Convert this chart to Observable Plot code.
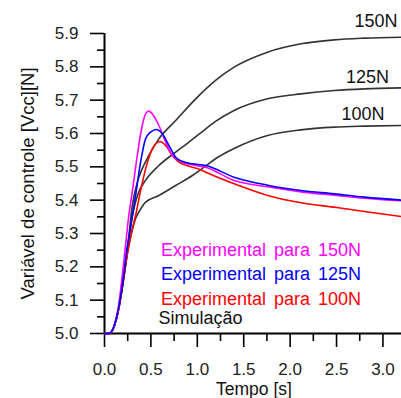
<!DOCTYPE html>
<html>
<head>
<meta charset="utf-8">
<script src="https://cdn.jsdelivr.net/npm/d3@7"></script>
<script src="https://cdn.jsdelivr.net/npm/@observablehq/plot@0.6"></script>
<style>
  html, body { margin: 0; padding: 0; background: #fff; }
  #chart svg { display: block; }
</style>
</head>
<body>
<div id="chart"></div>
<script>
// ---- Tick values ----
const xTicks = [0, 0.5, 1.0, 1.5, 2.0, 2.5, 3.0];
const xMinorTicks = [0.25, 0.75, 1.25, 1.75, 2.25, 2.75];
const yTicks = [5.0, 5.1, 5.2, 5.3, 5.4, 5.5, 5.6, 5.7, 5.8, 5.9];
const yMinorTicks = [5.05, 5.15, 5.25, 5.35, 5.45, 5.55, 5.65, 5.75, 5.85];

// ---- Labels ----
const simLabels = ["150N", "125N", "100N"];
const legendLabels = ["Experimental para 150N", "Experimental para 125N", "Experimental para 100N", "Simulação"];
const xTitle = "Tempo [s]";
const yTitle = "Variável de controle [Vcc][N]";

// ---- Simulation 150N ----
const tSim150 = [0, 0.05, 0.1, 0.15, 0.2, 0.25, 0.3, 0.35, 0.4, 0.478, 0.586, 0.767, 0.983, 1.2, 1.396, 1.757, 2.117, 2.476, 2.8, 3.2];
const vSim150 = [5.0, 5.0, 5.018, 5.07, 5.155, 5.26, 5.385, 5.45, 5.49, 5.534, 5.584, 5.639, 5.704, 5.76, 5.799, 5.844, 5.869, 5.881, 5.886, 5.889];

// ---- Simulation 125N ----
const tSim125 = [0, 0.05, 0.1, 0.15, 0.2, 0.25, 0.3, 0.33, 0.37, 0.443, 0.586, 0.767, 0.9, 1.037, 1.2, 1.396, 1.757, 2.117, 2.476, 2.8, 3.2];
const vSim125 = [5.0, 5.0, 5.018, 5.07, 5.155, 5.255, 5.35, 5.39, 5.425, 5.46, 5.504, 5.544, 5.572, 5.602, 5.637, 5.669, 5.704, 5.719, 5.729, 5.734, 5.737];

// ---- Simulation 100N ----
const tSim100 = [0, 0.05, 0.1, 0.15, 0.2, 0.25, 0.3, 0.335, 0.37, 0.443, 0.586, 0.767, 0.947, 1.091, 1.2, 1.396, 1.757, 2.117, 2.476, 2.8, 3.2];
const vSim100 = [5.0, 5.0, 5.018, 5.07, 5.15, 5.245, 5.31, 5.345, 5.364, 5.394, 5.414, 5.444, 5.474, 5.503, 5.525, 5.555, 5.594, 5.611, 5.619, 5.622, 5.624];

// ---- Experimental 150N ----
const tExp150 = [0, 0.05, 0.1, 0.15, 0.19, 0.225, 0.262, 0.299, 0.353, 0.407, 0.443, 0.478, 0.52, 0.586, 0.659, 0.731, 0.839, 0.947, 1.091, 1.396, 1.757, 2.117, 2.476, 2.8, 3.2];
const vExp150 = [5.0, 5.0, 5.02, 5.08, 5.17, 5.26, 5.354, 5.424, 5.534, 5.624, 5.659, 5.667, 5.657, 5.624, 5.574, 5.534, 5.514, 5.506, 5.499, 5.459, 5.44, 5.425, 5.415, 5.406, 5.398];

// ---- Experimental 125N ----
const tExp125 = [0, 0.05, 0.1, 0.15, 0.2, 0.24, 0.28, 0.335, 0.389, 0.443, 0.497, 0.558, 0.623, 0.694, 0.767, 0.85, 0.947, 1.091, 1.396, 1.757, 2.117, 2.476, 2.8, 3.2];
const vExp125 = [5.0, 5.0, 5.02, 5.075, 5.16, 5.25, 5.32, 5.414, 5.514, 5.584, 5.604, 5.612, 5.599, 5.564, 5.529, 5.515, 5.509, 5.504, 5.469, 5.445, 5.429, 5.419, 5.409, 5.40];

// ---- Experimental 100N ----
const tExp100 = [0, 0.05, 0.1, 0.15, 0.2, 0.25, 0.3, 0.335, 0.39, 0.443, 0.515, 0.597, 0.659, 0.731, 0.802, 0.947, 1.0, 1.091, 1.39, 1.75, 2.12, 2.5, 2.8, 3.2];
const vExp100 = [5.0, 5.0, 5.02, 5.07, 5.155, 5.245, 5.315, 5.354, 5.43, 5.494, 5.554, 5.576, 5.564, 5.534, 5.514, 5.499, 5.495, 5.484, 5.45, 5.415, 5.392, 5.378, 5.366, 5.351];

const toRows = (ts, vs) => ts.map((t, i) => ({t, v: vs[i]}));

const simColor = "#333333";
const font = "Arial, 'Liberation Sans', sans-serif";

const curve = (ts, vs, color) => Plot.line(toRows(ts, vs), {
  x: "t", y: "v", stroke: color, strokeWidth: 1.6, curve: "monotone-x"
});

const chart = Plot.plot({
  width: 401,
  height: 398,
  marginLeft: 104,
  marginRight: 0,
  marginTop: 33,
  marginBottom: 65,
  style: {fontFamily: font, background: "#fff", overflow: "visible"},
  x: {domain: [0, 3.2]},
  y: {domain: [5.0, 5.9]},
  marks: [
    // axis lines
    Plot.ruleX([0], {y1: 5.0, y2: 5.9, stroke: "#000", strokeWidth: 2}),
    Plot.ruleY([5.0], {x1: 0, x2: 3.2, stroke: "#000", strokeWidth: 2}),
    // minor ticks
    Plot.axisX({ticks: xMinorTicks, tickSize: 8, tickFormat: () => "", stroke: "#000", strokeWidth: 1.6, label: null}),
    Plot.axisY({ticks: yMinorTicks, tickSize: 7, tickFormat: () => "", stroke: "#000", strokeWidth: 1.6, label: null}),
    // major ticks
    Plot.axisX({ticks: xTicks, tickSize: 14, tickPadding: 15, tickFormat: d3.format(".1f"), fontSize: 17, fill: "#222", stroke: "#000", strokeWidth: 1.6, label: null}),
    Plot.axisY({ticks: yTicks, tickSize: 14, tickPadding: 12, tickFormat: d3.format(".1f"), fontSize: 17, fill: "#222", stroke: "#000", strokeWidth: 1.6, label: null}),
    // titles
    Plot.text([xTitle], {frameAnchor: "bottom", lineAnchor: "bottom", dy: 61, dx: 1, fontSize: 17.5, fill: "#111"}),
    Plot.text([yTitle], {frameAnchor: "left", rotate: -90, textAnchor: "middle", lineAnchor: "bottom", dx: -71, fontSize: 18.5, fill: "#111"}),
    // simulation curves
    curve(tSim150, vSim150, simColor),
    curve(tSim125, vSim125, simColor),
    curve(tSim100, vSim100, simColor),
    // experimental curves
    curve(tExp100, vExp100, "#ff0000"),
    curve(tExp150, vExp150, "#ff00ff"),
    curve(tExp125, vExp125, "#0000ff"),
    // simulation labels
    Plot.text([simLabels[0]], {frameAnchor: "top-right", textAnchor: "end", lineAnchor: "bottom", dx: -4, dy: -6.3, fontSize: 18, fill: "#111"}),
    Plot.text([simLabels[1]], {frameAnchor: "top-right", textAnchor: "end", lineAnchor: "bottom", dx: -12.5, dy: 49.7, fontSize: 18, fill: "#111"}),
    Plot.text([simLabels[2]], {frameAnchor: "top-right", textAnchor: "end", lineAnchor: "bottom", dx: -17, dy: 86, fontSize: 18, fill: "#111"}),
    // legend
    Plot.text([legendLabels[0]], {frameAnchor: "top-left", textAnchor: "start", lineAnchor: "bottom", dx: 56.5, dy: 222, fontSize: 18, fill: "#ff00ff"}),
    Plot.text([legendLabels[1]], {frameAnchor: "top-left", textAnchor: "start", lineAnchor: "bottom", dx: 56.5, dy: 246, fontSize: 18, fill: "#0000ff"}),
    Plot.text([legendLabels[2]], {frameAnchor: "top-left", textAnchor: "start", lineAnchor: "bottom", dx: 56.5, dy: 271, fontSize: 18, fill: "#ff0000"}),
    Plot.text([legendLabels[3]], {frameAnchor: "top-left", textAnchor: "start", lineAnchor: "bottom", dx: 54, dy: 290, fontSize: 18, fill: "#111"})
  ]
});

// the original font sets words slightly wider apart
d3.select(chart).selectAll("text")
  .filter(function () { return this.textContent.startsWith("Experimental"); })
  .attr("word-spacing", "3px");

document.getElementById("chart").appendChild(chart);
</script>
</body>
</html>
